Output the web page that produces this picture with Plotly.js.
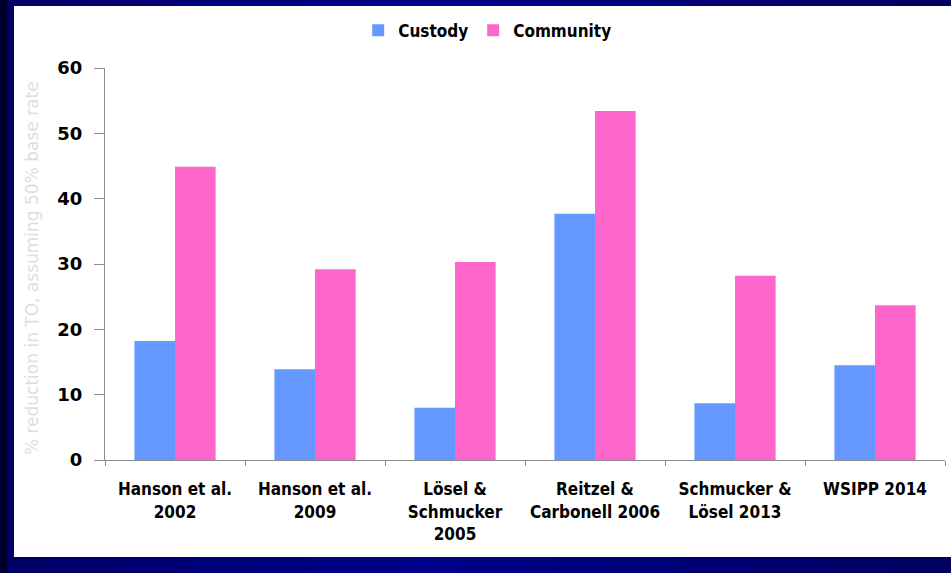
<!DOCTYPE html>
<html>
<head>
<meta charset="utf-8">
<script src="https://cdn.plot.ly/plotly-3.0.1.min.js"></script>
<style>
  html, body { margin: 0; padding: 0; }
  body {
    width: 951px; height: 573px; overflow: hidden; position: relative;
    background: linear-gradient(90deg, #000066 0%, #00008a 45%, #000060 100%);
  }
  #edge { position: absolute; left: 0; top: 0; width: 7px; height: 573px; background: #000030; }
  #chart { position: absolute; left: 14px; top: 6px; width: 937px; height: 551px; background: #fff; }
</style>
</head>
<body>
<div id="edge"></div>
<div id="chart"></div>
<script>
// Studies compared
const studies = [
  "Hanson et al.<br>2002",
  "Hanson et al.<br>2009",
  "Lösel &<br>Schmucker<br>2005",
  "Reitzel &<br>Carbonell 2006",
  "Schmucker &<br>Lösel 2013",
  "WSIPP 2014"
];
// Effect by treatment setting
const custody   = [18.2, 13.9, 8.0, 37.7, 8.7, 14.5];
const community = [44.9, 29.2, 30.3, 53.4, 28.2, 23.7];
const yTicks = [0, 10, 20, 30, 40, 50, 60];

const font = "'DejaVu Sans', Verdana, sans-serif";
const narrow = "'DejaVu Sans Condensed', 'DejaVu Sans', sans-serif";

const traces = [
  { type: "bar", name: "Custody", x: studies, y: custody,
    marker: { color: "#6699ff" }, hoverinfo: "y" },
  { type: "bar", name: "Community", x: studies, y: community,
    marker: { color: "#ff66cc" }, hoverinfo: "y" }
];

const layout = {
  width: 937, height: 551,
  margin: { l: 91, r: 6, t: 62, b: 97, autoexpand: false },
  paper_bgcolor: "#ffffff", plot_bgcolor: "#ffffff",
  barmode: "group", bargap: 0.42, bargroupgap: 0,
  showlegend: true,
  legend: {
    orientation: "h", x: 0.455, xanchor: "center", y: 1.095, yanchor: "middle",
    font: { family: narrow, size: 17, color: "#000", weight: "bold" },
    itemwidth: 30, traceorder: "normal"
  },
  xaxis: {
    type: "category",
    showline: true, linecolor: "#8c8c8c", linewidth: 1,
    ticks: "outside", tickson: "boundaries", ticklen: 5, tickcolor: "#8c8c8c",
    ticklabelstandoff: 14,
    tickfont: { family: narrow, size: 17, color: "#000", weight: "bold" },
    showgrid: false, zeroline: false
  },
  yaxis: {
    range: [0, 60], tickvals: yTicks,
    showline: true, linecolor: "#8c8c8c", linewidth: 1,
    ticks: "outside", ticklen: 10, tickcolor: "#8c8c8c",
    ticklabelstandoff: 8,
    tickfont: { family: font, size: 18, color: "#000", weight: "bold" },
    showgrid: false, zeroline: false
  },
  annotations: [{
    text: "% reduction in TO, assuming 50% base rate",
    xref: "paper", yref: "paper", x: -0.0867, y: 0.49,
    xanchor: "center", yanchor: "middle", textangle: -90, showarrow: false,
    font: { family: font, size: 17, color: "#dedede" }
  }]
};

Plotly.newPlot("chart", traces, layout, { displayModeBar: false, staticPlot: true });
</script>
</body>
</html>
